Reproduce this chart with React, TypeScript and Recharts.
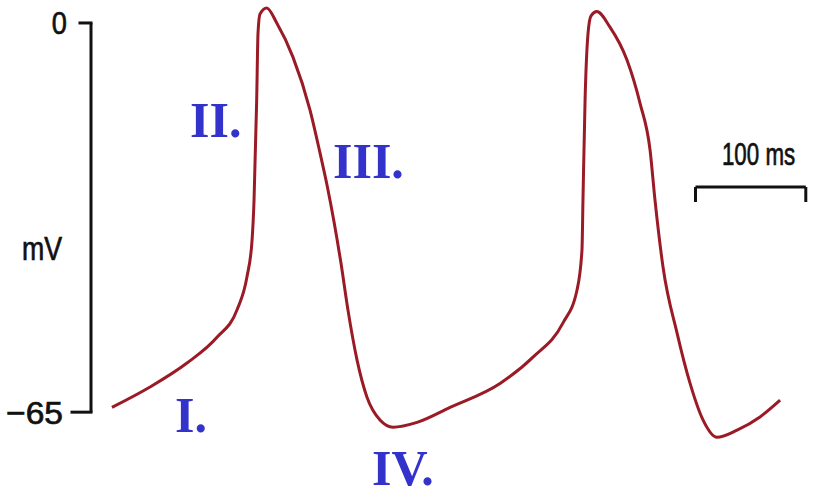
import React from 'react';
import { LineChart, Line, XAxis, YAxis, ReferenceLine, ReferenceDot } from 'recharts';

// time (ms) and membrane potential (mV)
const timeMs = [
  19.0, 53.5, 87.0, 114.2, 132.4, 141.4, 146.0, 147.8, 150.2, 151.4, 153.2, 159.3, 168.4, 183.1,
  198.5, 207.6, 214.0, 220.3, 226.6, 233.0, 241.2, 250.2, 262.0, 273.8, 295.6, 325.5, 370.8, 400.7,
  427.9, 440.6, 445.1, 446.0, 447.9, 450.6, 453.3, 458.5, 470.5, 485.9, 497.7, 506.8, 511.3, 518.6,
  531.3, 543.1, 554.8, 567.5, 585.7, 606.5, 624.7,
];
const membraneMv = [
  -64.2, -60.8, -56.8, -52.5, -47.9, -42.4, -36.3, -29.6, -12.9, -1.7, 1.5, 2.5, 0, -5.7,
  -14.5, -21.7, -27.1, -33.2, -40.1, -48.0, -56.3, -62.5, -66.3, -67.5, -66.7, -64.2, -60.2, -55.8,
  -50.1, -44.6, -37.9, -29.6, -12.9, -1.7, 1.2, 1.9, -0.7, -6.2, -13.4, -21.2, -29.6, -40.8,
  -51.8, -60.2, -66.3, -69.2, -68.0, -65.8, -63.0,
];

const voltTicks = [0, -65];
const voltTickLabels = ['0', '\u221265'];

// phase labels (anchored at left end of baseline)
const phaseNames = ['I.', 'II.', 'III.', 'IV.'];
const phaseTime = [76.2, 89.8, 219.4, 254.8];
const phaseMv = [-68.3, -19.0, -25.9, -77.2];

// 100 ms scale bar
const scaleStart = 548;
const scaleEnd = 648;
const scaleLevel = -27.4;
const scaleFoot = -29.9;

const data = timeMs.map((t, i) => ({ t, v: membraneMv[i] }));

const ink = '#111';
const sans = '"Liberation Sans", Arial, sans-serif';

// narrow-ish sans text, squeezed horizontally around its anchor
const Squeezed = ({ x, y, sx, size, anchor = 'start', children }: any) => (
  <text
    transform={`translate(${x},${y}) scale(${sx},1)`}
    textAnchor={anchor}
    fontFamily={sans}
    fontSize={size}
    fill={ink}
    stroke={ink}
    strokeWidth={0.7}
  >
    {children}
  </text>
);

const VoltTick = (props: any) => {
  const { x, y, payload } = props;
  const idx = voltTicks.indexOf(payload.value);
  const len = payload.value === 0 ? 11 : 19;
  const gap = payload.value === 0 ? 13 : 9;
  return (
    <g>
      <line x1={x - len} y1={y} x2={x} y2={y} stroke={ink} strokeWidth={3} strokeLinecap="square" />
      <Squeezed x={x - len - gap} y={y + 11.5} sx={payload.value === 0 ? 0.85 : 1.05} size={32} anchor="end">
        {voltTickLabels[idx]}
      </Squeezed>
    </g>
  );
};

const MvLabel = (props: any) => {
  const vb = props.viewBox;
  return (
    <Squeezed x={vb.x + 22} y={vb.y + vb.height / 2 + 12} sx={0.81} size={33}>
      mV
    </Squeezed>
  );
};

const PhaseText = (name: string) => (p: any) => (
  <text
    x={p.cx}
    y={p.cy}
    fontFamily='"Liberation Serif", "Times New Roman", serif'
    fontWeight="bold"
    fontSize={50}
    fill="#3333cc"
  >
    {name}
  </text>
);

const ScaleText = (p: any) => (
  <Squeezed x={p.cx} y={p.cy} sx={0.72} size={31}>
    100 ms
  </Squeezed>
);

const App: React.FC = () => {
  return (
    <div style={{ position: 'absolute', left: 0, top: 0, background: '#fff' }}>
      <LineChart width={817} height={497} data={data} margin={{ top: 5, right: 9, bottom: 7, left: 0 }}>
        <XAxis type="number" dataKey="t" domain={[0, 650]} hide />
        <YAxis
          type="number"
          domain={[-78, 3]}
          ticks={voltTicks}
          width={91}
          axisLine={false}
          tickLine={false}
          tickSize={0}
          tickMargin={0}
          tick={<VoltTick />}
          label={{ value: 'mV', content: MvLabel }}
        />
        {/* vertical calibration bar 0 .. -65 mV */}
        <ReferenceLine
          segment={[{ x: 0, y: 0 }, { x: 0, y: -65 }]}
          stroke={ink}
          strokeWidth={3}
          ifOverflow="visible"
        />
        {/* 100 ms bar */}
        <ReferenceLine
          segment={[{ x: scaleStart, y: scaleLevel }, { x: scaleEnd, y: scaleLevel }]}
          stroke={ink}
          strokeWidth={3}
          ifOverflow="visible"
        />
        <ReferenceLine
          segment={[{ x: scaleStart, y: scaleLevel }, { x: scaleStart, y: scaleFoot }]}
          stroke={ink}
          strokeWidth={3}
          ifOverflow="visible"
        />
        <ReferenceLine
          segment={[{ x: scaleEnd, y: scaleLevel }, { x: scaleEnd, y: scaleFoot }]}
          stroke={ink}
          strokeWidth={3}
          ifOverflow="visible"
        />
        <ReferenceDot x={572} y={-23.7} r={0} ifOverflow="visible" shape={ScaleText} />
        {phaseNames.map((name, i) => (
          <ReferenceDot
            key={name}
            x={phaseTime[i]}
            y={phaseMv[i]}
            r={0}
            ifOverflow="visible"
            shape={PhaseText(name)}
          />
        ))}
        <Line
          type="monotone"
          dataKey="v"
          stroke="#9a1a26"
          strokeWidth={3}
          dot={false}
          activeDot={false}
          isAnimationActive={false}
        />
      </LineChart>
    </div>
  );
};

export default App;
